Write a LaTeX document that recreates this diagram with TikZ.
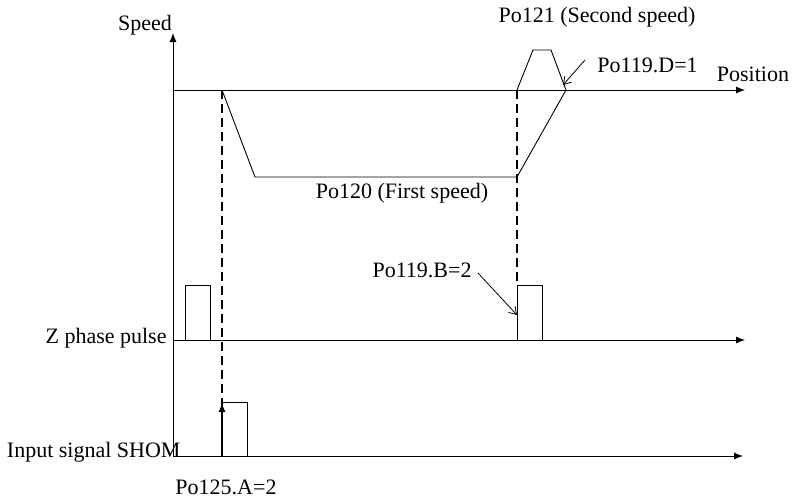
\documentclass[tikz,border=0pt]{standalone}
\usepackage{fontspec}
\setmainfont{Liberation Serif}
\usetikzlibrary{arrows.meta}
\begin{document}
\begin{tikzpicture}[x=1pt,y=-1pt,line width=0.9pt,
    axis/.style={-{Latex[length=9pt,width=7pt]}},
    pointer/.style={-{Straight Barb[length=7pt,width=9pt]},line width=0.8pt},
    guide/.style={line width=2pt,dash pattern=on 9pt off 5pt},
    lbl/.style={font=\fontsize{22}{25}\selectfont,inner sep=0pt}]
    \useasboundingbox (0,0) rectangle (794,498);
    \coordinate (O) at (173,456); \coordinate (T) at (173,33);
    \coordinate (P0) at (173,90); \coordinate (P1) at (745,90);
    \coordinate (Z0) at (173,340); \coordinate (Z1) at (745,340);
    \coordinate (I1) at (743,456);
    \coordinate (A) at (222,90); \coordinate (B) at (255,177);
    \coordinate (C) at (517,177); \coordinate (D) at (566,90);
    \coordinate (E) at (517,90); \coordinate (F) at (517,285);
    \coordinate (G) at (222,456); \coordinate (H) at (222,403);
    \coordinate (Dt) at (585,60); \coordinate (Dh) at (563,85);
    \coordinate (Bt) at (478,273); \coordinate (Bh) at (517,315);
    % axes
    \draw[axis] (O)--(T); \draw[axis] (P0)--(P1);
    \draw[axis] (Z0)--(Z1); \draw[axis] (O)--(I1);
    % speed profile
    \draw (A)--(B)--(C)--(D);
    \draw (E)--(533,50)--(551,50)--(D);
    \draw[guide] (A)--(G); \draw[guide] (E)--(F);
    % pulses
    \draw (185,340)--(185,285)--(210,285)--(210,340);
    \draw (517,340)--(F)--(542,285)--(542,340);
    \draw (G)--(222,402)--(247,402)--(247,456);
    \draw[axis,line width=1.2pt] (G)--(H);
    \draw[pointer] (Dt)--(Dh); \draw[pointer] (Bt)--(Bh);
    % labels
    \node[lbl] (speed) at (145,25) {Speed};
    \node[lbl] (pos) at (753,74) {Position};
    \node[lbl] (second) at (597,17) {Po121 (Second speed)};
    \node[lbl,anchor=west] (pd) at (597,65) {Po119.D=1};
    \node[lbl] (first) at (402,193) {Po120 (First speed)};
    \node[lbl,anchor=east] (pb) at (472,270) {Po119.B=2};
    \node[lbl,anchor=east] (zp) at (167,338) {Z phase pulse};
    \node[lbl,anchor=east] (shom) at (181,452) {Input signal SHOM};
    \node[lbl] (pa) at (226,487) {Po125.A=2};
\end{tikzpicture}
\end{document}
